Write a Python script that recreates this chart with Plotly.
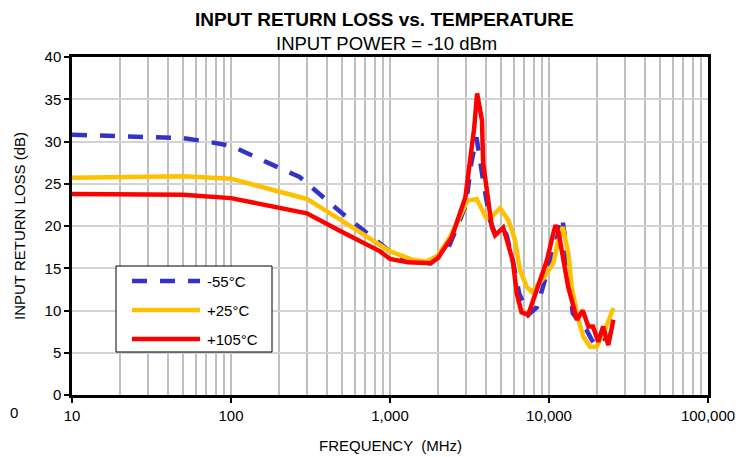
import plotly.graph_objects as go

# ---------------- data ----------------
freq_m55 = [10, 20, 30, 50, 70, 100, 170, 270, 500, 866, 1000, 1300, 1600, 1800, 2300, 2730,
            3000, 3250, 3500, 3850, 4250, 4600, 5100, 5400, 5900, 6500, 7400, 8400, 9200,
            10600, 12100, 12600, 13500, 14100, 15700, 17200, 18600, 20000, 21500, 23000, 24200]
rl_m55 = [30.8, 30.6, 30.5, 30.4, 30.0, 29.5, 27.5, 25.8, 21.5, 18.0, 17.0, 16.0, 15.6, 15.6, 17.2, 20.5,
          22.5, 27.5, 30.5, 25.4, 20.7, 19.0, 19.5, 19.0, 16.0, 12.0, 9.5, 10.4, 12.8,
          16.8, 21.0, 18.7, 12.8, 9.7, 8.5, 7.7, 6.5, 5.7, 7.3, 6.1, 7.3]

freq_p25 = [10, 50, 100, 300, 500, 866, 1000, 1390, 1700, 2000, 2385, 2755, 3065, 3510, 4015, 4360,
            4920, 5550, 6115, 6570, 7240, 7790, 9210, 10650, 11450, 12200, 13230, 13890, 15300,
            16450, 18120, 19950, 22490, 25370]
rl_p25 = [25.7, 25.9, 25.6, 23.2, 20.6, 17.7, 17.0, 16.0, 15.8, 16.5, 18.7, 21.1, 23.0, 23.2, 21.0, 21.1,
          22.1, 20.7, 18.3, 14.8, 12.8, 12.2, 13.8, 15.6, 18.3, 19.9, 16.8, 12.8, 8.9,
          6.9, 5.7, 5.7, 7.7, 10.3]

freq_p105 = [10, 50, 100, 300, 500, 866, 1000, 1300, 1800, 2000, 2450, 2980, 3200, 3380, 3530, 3790,
             3850, 4060, 4370, 4580, 5150, 5500, 5930, 6270, 6720, 7400, 8430, 9020, 9730, 10500,
             11000, 11500, 12300, 13200, 15000, 16300, 17700, 18900, 20400, 21900, 23600, 25400]
rl_p105 = [23.8, 23.7, 23.3, 21.5, 19.3, 17.0, 16.1, 15.7, 15.6, 16.2, 18.7, 23.4, 28.0, 31.5, 35.7, 32.5,
           27.5, 24.3, 19.9, 18.9, 19.8, 18.0, 15.8, 12.0, 9.8, 9.5, 12.8, 14.4, 16.0, 18.7,
           20.1, 19.2, 16.0, 12.8, 8.9, 10.0, 8.1, 8.1, 6.3, 8.1, 5.9, 8.9]

series_names = ["-55°C", "+25°C", "+105°C"]
series_colors = ["#3333CC", "#FFC000", "#FF0000"]
series_dash = ["15px,13px", "solid", "solid"]

x_major = [10, 100, 1000, 10000, 100000]
x_major_text = ["10", "100", "1,000", "10,000", "100,000"]
x_minor = [m * d for d in [10, 100, 1000, 10000] for m in range(2, 10)]
y_ticks = [0, 5, 10, 15, 20, 25, 30, 35, 40]

# ---------------- layout constants ----------------
OFF = 8  # page body margin
W, H = 754 - OFF, 457 - OFF
L, R, T, B = 72 - OFF, 46, 57 - OFF, 62
PW, PH = W - L - R, H - T - B
FONT = "Liberation Sans, Arial, sans-serif"


def px(xp):  # page pixel -> paper
    return (xp - OFF - L) / PW


def py(yp):
    return (H - B - (yp - OFF)) / PH


fig = go.Figure()
data = [(freq_m55, rl_m55), (freq_p25, rl_p25), (freq_p105, rl_p105)]
for (fx, fy), name, col, dash in zip(data, series_names, series_colors, series_dash):
    fig.add_trace(go.Scatter(x=fx, y=fy, mode="lines", name=name,
                             line=dict(color=col, width=4.5, dash=dash),
                             showlegend=False))

fig.update_layout(
    width=W, height=H,
    margin=dict(l=L, r=R, t=T, b=B),
    paper_bgcolor="white", plot_bgcolor="white",
    font=dict(family=FONT, color="black", size=15),
    xaxis=dict(type="log", range=[1, 5], tickmode="array", tickvals=x_major, ticktext=x_major_text,
               showgrid=True, gridcolor="#BFBFBF", gridwidth=2,
               showline=True, linecolor="black", linewidth=2.5, mirror=True,
               ticks="outside", ticklen=5, tickwidth=2, tickcolor="black",
               tickfont=dict(size=15), zeroline=False,
               minor=dict(tickmode="array", tickvals=x_minor, showgrid=True,
                          gridcolor="#BFBFBF", gridwidth=2, ticks="")),
    yaxis=dict(range=[0, 40], tickmode="array", tickvals=y_ticks,
               showgrid=True, gridcolor="#D3D3D3", gridwidth=1.5,
               showline=True, linecolor="black", linewidth=2.5, mirror=True,
               ticks="outside", ticklen=5, tickwidth=2, tickcolor="black",
               tickfont=dict(size=15), zeroline=False),
)

ann = [
    dict(text="<b>INPUT RETURN LOSS vs. TEMPERATURE</b>", x=px(384), y=py(OFF), yanchor="top",
         borderpad=0, font=dict(size=19)),
    dict(text="INPUT POWER = -10 dBm", x=px(386), y=py(32), yanchor="top",
         borderpad=0, font=dict(size=18.5)),
    dict(text="FREQUENCY  (MHz)", x=px(390), y=py(445), font=dict(size=15)),
    dict(text="INPUT RETURN LOSS (dB)", x=px(19), y=py(226), textangle=-90, font=dict(size=15)),
    dict(text="0", x=px(8), y=py(412), xanchor="left", font=dict(size=15)),
]
for a in ann:
    a.setdefault("xanchor", "center")
    a.setdefault("yanchor", "middle")
    fig.add_annotation(xref="paper", yref="paper", showarrow=False, **a)

# legend box (drawn manually to match the reference look)
fig.add_shape(type="rect", xref="paper", yref="paper", x0=px(116), x1=px(272), y0=py(352), y1=py(266),
              line=dict(color="black", width=1), fillcolor="white", layer="above")
for name, col, dash, yy in zip(series_names, series_colors, series_dash, [281, 310, 339]):
    fig.add_shape(type="line", xref="paper", yref="paper", x0=px(132), x1=px(200), y0=py(yy), y1=py(yy),
                  line=dict(color=col, width=4.5, dash=dash), layer="above")
    fig.add_annotation(xref="paper", yref="paper", x=px(205), y=py(yy), text=name, showarrow=False,
                       xanchor="left", yanchor="middle", font=dict(size=15))

fig.write_html("out.html")
